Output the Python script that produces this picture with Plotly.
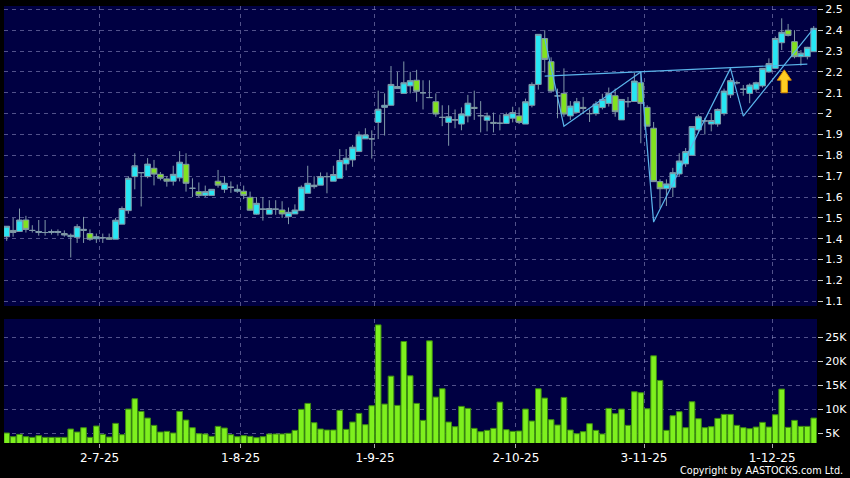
import plotly.graph_objects as go

# ---------------- data ----------------
months = {
    "2025-06": [10, 11, 12, 13, 16, 17, 18, 19, 20, 23, 24, 25, 26, 27, 30],
    "2025-07": [2, 3, 4, 7, 8, 9, 10, 11, 14, 15, 16, 17, 18, 21, 22, 23, 24, 25, 28, 29, 30, 31],
    "2025-08": [1, 4, 5, 6, 7, 8, 11, 12, 13, 14, 15, 18, 19, 20, 21, 22, 25, 26, 27, 28, 29],
    "2025-09": [1, 2, 3, 4, 5, 8, 9, 10, 11, 12, 15, 16, 17, 18, 19, 22, 23, 24, 25, 26, 29, 30],
    "2025-10": [2, 3, 6, 8, 9, 10, 13, 14, 15, 16, 17, 20, 21, 22, 23, 24, 27, 28, 30, 31],
    "2025-11": [3, 4, 5, 6, 7, 10, 11, 12, 13, 14, 17, 18, 19, 20, 21, 24, 25, 26, 27, 28],
    "2025-12": [1, 2, 3, 4, 5, 8, 9],
}
dates = [f"{m}-{d:02d}" for m, days in months.items() for d in days]

opens = [1.41, 1.44, 1.435, 1.49, 1.44, 1.43, 1.43, 1.43, 1.43, 1.425,
         1.41, 1.407, 1.44, 1.425, 1.40, 1.405, 1.405, 1.398, 1.47, 1.535,
         1.698, 1.717, 1.698, 1.738, 1.709, 1.687, 1.676, 1.692, 1.757, 1.642,
         1.626, 1.608, 1.608, 1.676, 1.637, 1.647, 1.628, 1.628, 1.599, 1.518,
         1.542, 1.518, 1.542, 1.538, 1.506, 1.519, 1.535, 1.618, 1.65, 1.657,
         1.698, 1.676, 1.69, 1.759, 1.778, 1.818, 1.879, 1.879, 1.958, 2.03,
         2.04, 2.12, 2.097, 2.133, 2.16, 2.10, 2.077, 2.057, 1.982, 1.958,
         1.97, 1.95, 1.989, 2.03, 1.99, 1.968, 1.958, 1.954, 1.953, 1.978,
         1.989, 1.95, 2.04, 2.14, 2.36, 2.249, 2.085, 2.097, 1.989, 2.006,
         2.03, 2.0, 2.0, 2.029, 2.049, 2.086, 1.97, 2.057, 2.058, 2.148,
         2.03, 1.93, 1.674, 1.64, 1.647, 1.711, 1.759, 1.80, 1.922, 1.965,
         1.95, 1.95, 2.0, 2.09, 2.148, 2.117, 2.097, 2.117, 2.133, 2.20,
         2.217, 2.34, 2.40, 2.345, 2.273, 2.273, 2.297]
highs = [1.46, 1.50, 1.545, 1.51, 1.465, 1.49, 1.49, 1.445, 1.445, 1.44,
         1.425, 1.47, 1.505, 1.445, 1.425, 1.425, 1.425, 1.50, 1.555, 1.70,
         1.81, 1.72, 1.787, 1.778, 1.72, 1.70, 1.75, 1.82, 1.81, 1.69,
         1.67, 1.655, 1.637, 1.73, 1.70, 1.675, 1.66, 1.655, 1.626, 1.60,
         1.60, 1.585, 1.585, 1.58, 1.55, 1.565, 1.656, 1.75, 1.70, 1.718,
         1.718, 1.75, 1.83, 1.83, 1.85, 1.915, 1.93, 1.92, 2.11, 2.097,
         2.228, 2.20, 2.25, 2.20, 2.21, 2.16, 2.16, 2.097, 2.04, 2.04,
         2.02, 2.03, 2.09, 2.11, 2.06, 2.005, 2.005, 1.995, 2.005, 2.033,
         2.03, 2.072, 2.15, 2.38, 2.40, 2.27, 2.12, 2.217, 2.06, 2.075,
         2.08, 2.02, 2.06, 2.095, 2.125, 2.12, 2.068, 2.08, 2.196, 2.20,
         2.04, 1.96, 1.685, 1.685, 1.74, 1.81, 1.835, 1.938, 1.995, 1.98,
         2.0, 2.025, 2.12, 2.17, 2.158, 2.137, 2.145, 2.153, 2.217, 2.265,
         2.37, 2.457, 2.43, 2.40, 2.305, 2.32, 2.42]
lows = [1.39, 1.41, 1.435, 1.43, 1.43, 1.415, 1.415, 1.42, 1.415, 1.41,
        1.31, 1.38, 1.38, 1.39, 1.38, 1.38, 1.395, 1.398, 1.47, 1.52,
        1.637, 1.555, 1.69, 1.656, 1.68, 1.65, 1.655, 1.675, 1.626, 1.60,
        1.60, 1.60, 1.608, 1.645, 1.62, 1.62, 1.62, 1.59, 1.535, 1.515,
        1.487, 1.518, 1.515, 1.50, 1.47, 1.519, 1.535, 1.618, 1.64, 1.657,
        1.618, 1.676, 1.69, 1.728, 1.745, 1.818, 1.879, 1.784, 1.878, 1.895,
        2.04, 2.12, 2.097, 2.097, 2.057, 2.02, 2.075, 1.985, 1.94, 1.846,
        1.93, 1.92, 1.958, 1.97, 1.91, 1.915, 1.91, 1.92, 1.95, 1.958,
        1.95, 1.95, 2.03, 2.115, 2.197, 2.105, 1.978, 1.985, 1.97, 2.0,
        2.0, 1.96, 1.99, 2.02, 2.034, 1.985, 1.97, 2.03, 2.058, 1.858,
        1.94, 1.674, 1.546, 1.557, 1.60, 1.70, 1.745, 1.80, 1.905, 1.90,
        1.915, 1.937, 1.99, 2.075, 2.14, 2.086, 2.05, 2.105, 2.125, 2.196,
        2.217, 2.305, 2.37, 2.265, 2.23, 2.26, 2.297]
closes = [1.46, 1.43, 1.49, 1.445, 1.44, 1.435, 1.43, 1.435, 1.435, 1.418,
          1.417, 1.458, 1.445, 1.398, 1.41, 1.405, 1.398, 1.489, 1.545, 1.69,
          1.75, 1.717, 1.758, 1.71, 1.69, 1.676, 1.709, 1.767, 1.666, 1.642,
          1.608, 1.626, 1.637, 1.657, 1.666, 1.647, 1.637, 1.608, 1.537, 1.570,
          1.542, 1.545, 1.542, 1.519, 1.527, 1.538, 1.647, 1.666, 1.657, 1.698,
          1.698, 1.708, 1.775, 1.786, 1.839, 1.898, 1.898, 1.879, 2.021, 2.04,
          2.14, 2.13, 2.148, 2.158, 2.107, 2.10, 2.077, 1.998, 1.982, 1.985,
          1.97, 1.998, 2.05, 2.025, 1.99, 1.989, 1.954, 1.954, 1.995, 2.005,
          1.958, 2.057, 2.14, 2.38, 2.26, 2.108, 2.085, 1.998, 2.036, 2.057,
          2.025, 2.0, 2.046, 2.068, 2.097, 2.009, 2.068, 2.057, 2.156, 2.049,
          1.94, 1.674, 1.64, 1.663, 1.717, 1.773, 1.818, 1.938, 1.985, 1.965,
          1.967, 2.02, 2.108, 2.158, 2.148, 2.117, 2.137, 2.148, 2.217, 2.24,
          2.36, 2.39, 2.375, 2.273, 2.29, 2.318, 2.409]
volumes = [5000, 4236, 4722, 4236, 4097, 4444, 4097, 4097, 4097, 4097,
           5833, 5208, 6111, 4097, 6458, 4722, 4167, 7014, 4653, 10000,
           12153, 9514, 8125, 6597, 5208, 5347, 5000, 9514, 7708, 6111,
           4861, 4792, 4306, 6389, 6042, 4653, 4236, 4444, 4306, 4028,
           4236, 4792, 4792, 4792, 4931, 5556, 9931, 11181, 7153, 5833,
           5625, 5625, 9722, 5764, 7292, 9097, 6736, 10694, 27569, 11042,
           16875, 10764, 24097, 16944, 11181, 7639, 24236, 12500, 14236, 7292,
           6319, 10556, 10139, 5972, 5278, 5556, 5972, 11458, 5694, 5347,
           5417, 10000, 7500, 14236, 12292, 7778, 6667, 12431, 5625, 4861,
           5278, 6944, 5556, 4792, 10139, 9028, 10000, 6597, 13611, 13403,
           10069, 21111, 15972, 5556, 8611, 9444, 6111, 11528, 7986, 6111,
           6319, 8056, 8889, 8889, 6597, 6111, 5903, 6250, 7222, 6250,
           8819, 14167, 6181, 7639, 6389, 6389, 8125]

tick_dates = ["2025-07-02", "2025-08-01", "2025-09-01", "2025-10-02", "2025-11-03", "2025-12-01"]
tick_labels = ["2-7-25", "1-8-25", "1-9-25", "2-10-25", "3-11-25", "1-12-25"]
price_ticks = [1.1, 1.2, 1.3, 1.4, 1.5, 1.6, 1.7, 1.8, 1.9, 2.0, 2.1, 2.2, 2.3, 2.4, 2.5]
price_tick_labels = ["1.1", "1.2", "1.3", "1.4", "1.5", "1.6", "1.7", "1.8", "1.9", "2",
                     "2.1", "2.2", "2.3", "2.4", "2.5"]
vol_ticks = [5000, 10000, 15000, 20000, 25000]
vol_tick_labels = ["5K", "10K", "15K", "20K", "25K"]

# trend overlay (zigzag pivots and resistance line)
zigzag_dates = ["2025-10-09", "2025-10-14", "2025-10-31", "2025-11-04", "2025-11-20", "2025-11-24", "2025-12-09"]
zigzag_prices = [2.36, 1.94, 2.20, 1.48, 2.217, 1.988, 2.409]
resist_dates = ["2025-10-09", "2025-12-08"]
resist_prices = [2.18, 2.237]
arrow_date = "2025-12-02"
arrow_tip = 2.21
arrow_base = 2.10

# ---------------- figure ----------------
x = list(range(len(dates)))
idx = {d: i for i, d in enumerate(dates)}
tickvals = [idx[d] - 0.5 for d in tick_dates]

CYAN = "#27e6f4"
GREEN = "#82e21f"
OUTLINE = "#8098a8"
GRID = "rgba(150,150,200,0.55)"
FONT = "DejaVu Sans"

fig = go.Figure()
fig.add_trace(go.Candlestick(
    x=x, open=opens, high=highs, low=lows, close=closes,
    xaxis="x2", yaxis="y2",
    increasing=dict(fillcolor=CYAN, line=dict(color=OUTLINE, width=1)),
    decreasing=dict(fillcolor=GREEN, line=dict(color=OUTLINE, width=1)),
    whiskerwidth=0, showlegend=False, hoverinfo="skip",
))
fig.add_trace(go.Scatter(
    x=[idx[d] for d in resist_dates], y=resist_prices, mode="lines",
    line=dict(color="#5ab4ea", width=1.2), xaxis="x2", yaxis="y2",
    showlegend=False, hoverinfo="skip"))
fig.add_trace(go.Scatter(
    x=[idx[d] for d in zigzag_dates], y=zigzag_prices, mode="lines",
    line=dict(color="#5ab4ea", width=1.2), xaxis="x2", yaxis="y2",
    showlegend=False, hoverinfo="skip"))
fig.add_trace(go.Bar(
    x=x, y=volumes, xaxis="x", yaxis="y",
    marker=dict(color="#7ef01e", line=dict(color="#3c8c10", width=1)),
    showlegend=False, hoverinfo="skip",
))

# block arrow
ax = idx[arrow_date] + 0.4
hw, sw = 1.1, 0.5
neck = arrow_tip - (arrow_tip - arrow_base) * 0.45
path = (f"M {ax},{arrow_tip} L {ax - hw},{neck} L {ax - sw},{neck} L {ax - sw},{arrow_base} "
        f"L {ax + sw},{arrow_base} L {ax + sw},{neck} L {ax + hw},{neck} Z")
fig.add_shape(type="path", path=path, xref="x2", yref="y2",
              fillcolor="#ffcc22", line=dict(color="#d98c00", width=1))

xrange = [-0.42, len(dates) - 0.49]
common_x = dict(range=xrange, tickmode="array", tickvals=tickvals, showgrid=True,
                gridcolor=GRID, griddash="4px,4px", gridwidth=1, zeroline=False,
                showline=False, fixedrange=True)

fig.update_layout(
    width=850, height=478,
    margin=dict(l=4, r=33, t=6, b=35),
    paper_bgcolor="#000000", plot_bgcolor="#000042",
    boxgap=0.1, boxgroupgap=0, bargap=0.12,
    font=dict(family=FONT, color="#ffffff", size=11),
    xaxis=dict(**common_x, anchor="y", ticktext=tick_labels, ticks="outside",
               ticklen=4, tickcolor="#aaaaaa", tickfont=dict(size=12, color="#ffffff")),
    xaxis2=dict(**common_x, anchor="y2", matches="x", showticklabels=False,
                rangeslider=dict(visible=False)),
    yaxis=dict(domain=[0, 0.2838], range=[2917, 28800], side="right",
               tickmode="array", tickvals=vol_ticks, ticktext=vol_tick_labels,
               ticks="outside", ticklen=5, tickcolor="#cccccc",
               showgrid=True, gridcolor=GRID, griddash="4px,4px", zeroline=False,
               tickfont=dict(size=11, color="#ffffff"), fixedrange=True),
    yaxis2=dict(domain=[0.3135, 1], range=[1.0777, 2.516], side="right",
                tickmode="array", tickvals=price_ticks, ticktext=price_tick_labels,
                ticks="outside", ticklen=5, tickcolor="#cccccc",
                showgrid=True, gridcolor=GRID, griddash="4px,4px", zeroline=False,
                tickfont=dict(size=11, color="#ffffff"), fixedrange=True),
    annotations=[dict(text="Copyright by AASTOCKS.com Ltd.", xref="paper", yref="paper",
                      x=1.035, y=-0.062, xanchor="right", yanchor="middle",
                      showarrow=False, font=dict(size=9.7, color="#ffffff", family=FONT))],
)

fig.write_html("out.html", config={"displayModeBar": False},
               post_script="document.body.style.margin='0';document.body.style.background='#000';")
